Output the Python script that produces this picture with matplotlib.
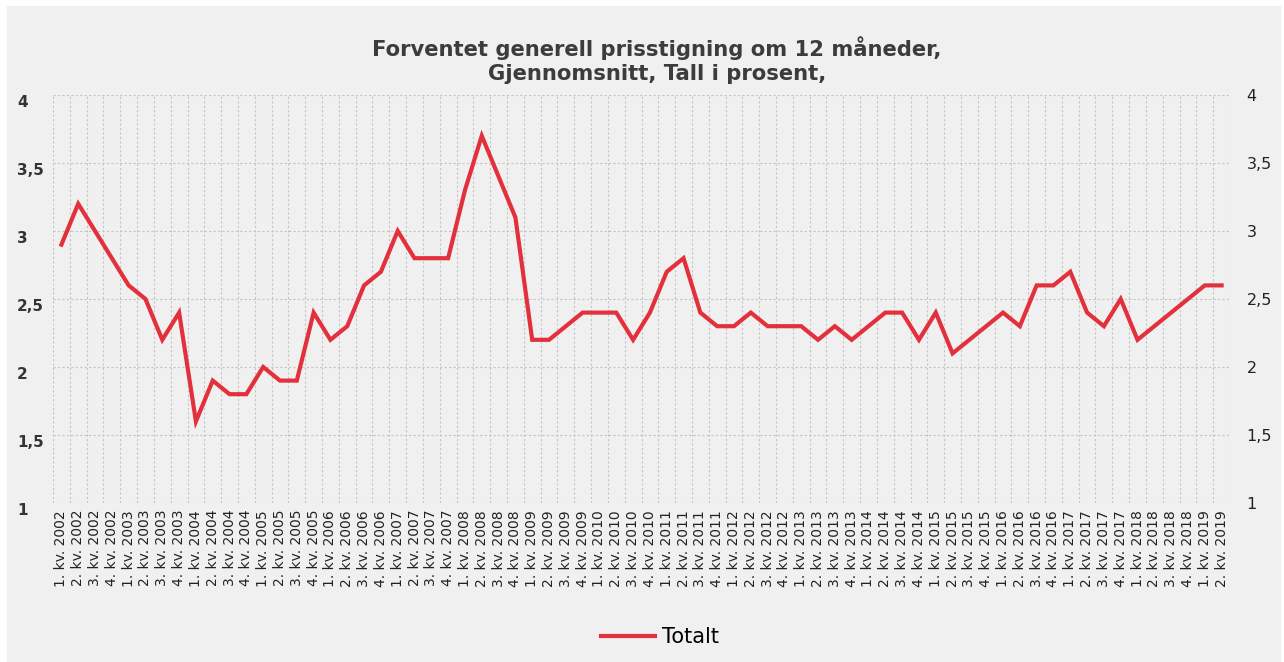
import matplotlib.pyplot as plt
from matplotlib.patches import Rectangle

# quarterly labels, 1. kv. 2002 .. 2. kv. 2019
years = list(range(2002, 2020))
quarters = [f'{q}. kv. {y}' for y in years for q in (1, 2, 3, 4)][:70]

totalt = [
    2.9, 3.2, 3.0, 2.8, 2.6, 2.5, 2.2, 2.4,   # 2002-2003
    1.6, 1.9, 1.8, 1.8, 2.0, 1.9, 1.9, 2.4,   # 2004-2005
    2.2, 2.3, 2.6, 2.7, 3.0, 2.8, 2.8, 2.8,   # 2006-2007
    3.3, 3.7, 3.4, 3.1, 2.2, 2.2, 2.3, 2.4,   # 2008-2009
    2.4, 2.4, 2.2, 2.4, 2.7, 2.8, 2.4, 2.3,   # 2010-2011
    2.3, 2.4, 2.3, 2.3, 2.3, 2.2, 2.3, 2.2,   # 2012-2013
    2.3, 2.4, 2.4, 2.2, 2.4, 2.1, 2.2, 2.3,   # 2014-2015
    2.4, 2.3, 2.6, 2.6, 2.7, 2.4, 2.3, 2.5,   # 2016-2017
    2.2, 2.3, 2.4, 2.5, 2.6, 2.6,             # 2018-2019
]
y_ticks = [1, 1.5, 2, 2.5, 3, 3.5, 4]
y_labels = ['1', '1,5', '2', '2,5', '3', '3,5', '4']

W, H = 1284, 662
fig = plt.figure(figsize=(W / 100, H / 100), dpi=100, facecolor='white')
fig.patches.append(Rectangle((7 / W, 0), 1 - 10 / W, 1 - 6 / H, transform=fig.transFigure,
                             facecolor='#f0f0f0', edgecolor='none', zorder=-10))

ax = fig.add_axes([53 / W, 1 - 503 / H, (1230 - 53) / W, (503 - 95) / H])
ax.set_facecolor('none')
x = list(range(len(totalt)))
line, = ax.plot(x, totalt, color='#e3303d', linewidth=3, solid_joinstyle='miter', label='Totalt')

ax.set_xlim(-0.5, len(totalt) - 0.5)
ax.set_ylim(1, 4)
for s in ax.spines.values():
    s.set_visible(False)

ax.set_xticks(x)
ax.set_xticklabels(quarters, rotation=90, fontsize=10, color='#222222')
ax.set_xticks([i - 0.5 for i in range(len(totalt) + 1)], minor=True)
ax.tick_params(axis='x', which='both', length=0, pad=5)

# left labels: bold-ish, left aligned, hanging below the grid line
ax.set_yticks(y_ticks)
ax.set_yticklabels(y_labels, fontsize=11, fontweight='bold', color='#333333', ha='left', va='top')
ax.tick_params(axis='y', length=0, pad=26)

ax.grid(True, axis='x', which='minor', color='#c4c4c4', linestyle=(0, (2, 2)), linewidth=0.8)
ax.grid(True, axis='y', which='major', color='#c4c4c4', linestyle=(0, (2, 2)), linewidth=0.8)
ax.grid(False, axis='x', which='major')

ax2 = ax.twinx()
ax2.set_ylim(1, 4)
ax2.set_yticks(y_ticks)
ax2.set_yticklabels(y_labels, fontsize=11.5, color='#222222')
ax2.tick_params(axis='y', length=0, pad=12)
for s in ax2.spines.values():
    s.set_visible(False)

fig.text(657 / W, 1 - 60 / H, 'Forventet generell prisstigning om 12 måneder,\nGjennomsnitt, Tall i prosent,',
         ha='center', va='center', fontsize=15.2, fontweight='bold', color='#3c3c3c', linespacing=1.2)

fig.legend(handles=[line], loc='center', bbox_to_anchor=(660 / W, 1 - 637 / H), frameon=False,
           fontsize=15, handlelength=2.6, handletextpad=0.3)

fig.savefig('out.png', dpi=100, facecolor=fig.get_facecolor())
